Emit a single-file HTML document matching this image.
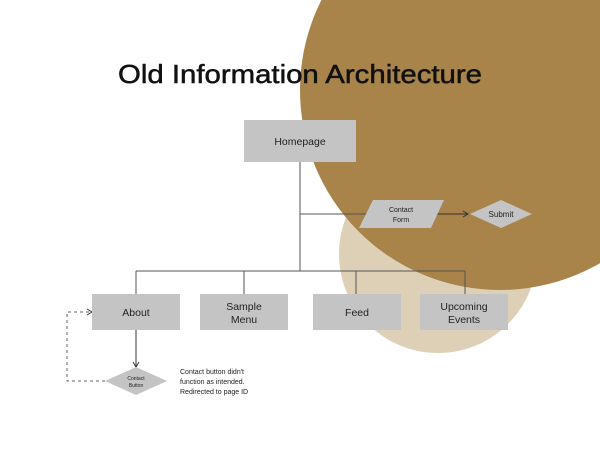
<!DOCTYPE html>
<html><head><style>
body{margin:0;width:600px;height:452px;background:#fff;overflow:hidden;font-family:"Liberation Sans",sans-serif}
</style></head><body>
<svg width="600" height="452" viewBox="0 0 600 452" xmlns="http://www.w3.org/2000/svg" font-family="Liberation Sans, sans-serif">
<defs><marker id="a" markerWidth="8" markerHeight="8" refX="6" refY="4" orient="auto"><path d="M1,1 L6,4 L1,7" fill="none" stroke="#333" stroke-width="1"/></marker></defs>
<circle cx="438" cy="254" r="99" fill="#ddd0b6"/>
<circle cx="500" cy="90" r="200" fill="#a8834a"/>
<text x="118" y="83" font-size="26" textLength="364" lengthAdjust="spacingAndGlyphs" fill="#111" stroke="#111" stroke-width="0.5">Old Information Architecture</text>
<g stroke="#555" stroke-width="1" fill="none">
<line x1="300" y1="162" x2="300" y2="271"/>
<line x1="300" y1="214" x2="370" y2="214"/>
<line x1="136" y1="271" x2="465" y2="271"/>
<line x1="136" y1="271" x2="136" y2="294"/>
<line x1="244" y1="271" x2="244" y2="294"/>
<line x1="356" y1="271" x2="356" y2="294"/>
<line x1="465" y1="271" x2="465" y2="294"/>
</g>
<line x1="437" y1="214" x2="468" y2="214" stroke="#333" marker-end="url(#a)"/>
<line x1="136" y1="330" x2="136" y2="367" stroke="#333" marker-end="url(#a)"/>
<path d="M105,381 H67 V312 H92" fill="none" stroke="#666" stroke-dasharray="3,3" marker-end="url(#a)"/>
<g fill="#c4c4c4">
<rect x="244" y="120" width="112" height="42"/>
<polygon points="373,200 444,200 431,228 359,228"/>
<polygon points="501,200 532,214 501,228 470,214"/>
<rect x="92" y="294" width="88" height="36"/>
<rect x="200" y="294" width="88" height="36"/>
<rect x="313" y="294" width="88" height="36"/>
<rect x="420" y="294" width="88" height="36"/>
<polygon points="136,367 167,381 136,395 105,381"/>
</g>
<g font-size="10.5" fill="#222" text-anchor="middle">
<text x="300" y="145">Homepage</text>
<text x="136" y="316">About</text>
<text x="244" y="310">Sample</text><text x="244" y="323">Menu</text>
<text x="357" y="316">Feed</text>
<text x="464" y="310">Upcoming</text><text x="464" y="323">Events</text>
<text x="401" y="212" font-size="7">Contact</text><text x="401" y="222" font-size="7">Form</text>
<text x="501" y="217" font-size="8">Submit</text>
<text x="136" y="380" font-size="5">Contact</text><text x="136" y="387" font-size="5">Button</text>
</g>
<g font-size="7" fill="#222">
<text x="180" y="374">Contact button didn't</text>
<text x="180" y="384">function as intended.</text>
<text x="180" y="394">Redirected to page ID</text>
</g>
</svg>
</body></html>
